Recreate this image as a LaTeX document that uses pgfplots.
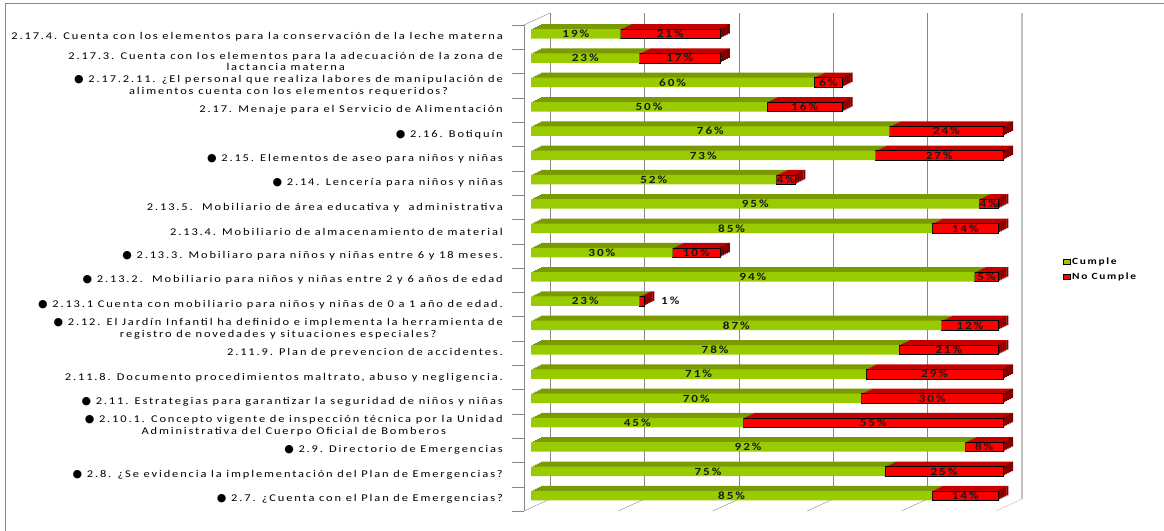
\documentclass[border=0pt]{standalone}
\usepackage{fontspec}
\setmainfont{Carlito}[FakeStretch=1.2, LetterSpace=18]
\newfontfamily\bulletfont{DejaVu Sans}
\usepackage{pgfplots}
\pgfplotsset{compat=1.18}
\usepackage{pgfplotstable}

\definecolor{cumpleFront}{HTML}{99CC00}
\definecolor{cumpleTop}{HTML}{7A9A01}
\definecolor{noFront}{HTML}{FF0000}
\definecolor{noTop}{HTML}{C40000}
\definecolor{noSide}{HTML}{800000}
\definecolor{wall}{HTML}{868686}
\definecolor{wallLight}{HTML}{C0C0C0}

\newcommand{\bul}{{\bulletfont\fontsize{11}{11}\selectfont ●}\ }
% width (in percent) of the dark end face of each bar
\def\capw{0.42}

% pos = category position (top row first), c = Cumple, n = No Cumple (percent)
\pgfplotstableread{
pos   c   n
19.5  19  21
18.5  23  17
17.5  60  6
16.5  50  16
15.5  76  24
14.5  73  27
13.5  52  4
12.5  95  4
11.5  85  14
10.5  30  10
9.5   94  5
8.5   23  1
7.5   87  12
6.5   78  21
5.5   71  29
4.5   70  30
3.5   45  55
2.5   92  8
1.5   75  25
0.5   85  14
}\datatable

\pgfplotsset{
  plane/.style={
    scale only axis, width=472bp, height=486bp,
    xmin=0, xmax=100, ymin=0, ymax=20,
    clip=false, anchor=south west, at={(524bp,20bp)},
  },
  layer/.style={plane, hide axis},
}

\begin{document}
\begin{tikzpicture}
\useasboundingbox (0,0) rectangle (1164bp,531bp);
\draw[wall] (5bp,-5bp) -- (5bp,527.7bp) -- (1170bp,527.7bp);

% walls, floor and category axis
\begin{axis}[plane,
  axis x line=none, axis y line*=left,
  axis line style={wall},
  xtick=\empty,
  ytick={0.5,1.5,...,19.5},
  minor ytick={0,1,...,20},
  major tick length=0pt, minor tick length=12bp, tick align=outside,
  tick style={wall},
  yticklabel style={font=\fontsize{10.4}{11.8}\selectfont, align=center,
    anchor=east, inner sep=0pt, xshift=-21bp, text=black},
  yticklabels={
    \bul 2.7. ¿Cuenta con el Plan de Emergencias?,
    \bul 2.8. ¿Se evidencia la implementación del Plan de Emergencias?,
    \bul 2.9. Directorio de Emergencias,
    \bul 2.10.1. Concepto vigente de inspección técnica por la Unidad\\Administrativa del Cuerpo Oficial de Bomberos,
    \bul 2.11. Estrategias para garantizar la seguridad de niños y niñas,
    {2.11.8. Documento procedimientos maltrato, abuso y negligencia.},
    2.11.9. Plan de prevencion de accidentes.,
    \bul 2.12. El Jardín Infantil ha definido e implementa la herramienta de\\registro de novedades y situaciones especiales?,
    \bul 2.13.1 Cuenta con mobiliario para niños y niñas de 0 a 1 año de edad.,
    \bul 2.13.2.\ \ Mobiliario para niños y niñas entre 2 y 6 años de edad,
    \bul 2.13.3. Mobiliaro para niños y niñas entre 6 y 18 meses.,
    2.13.4. Mobiliario de almacenamiento de material,
    2.13.5.\ \ Mobiliario de área educativa y\ \ administrativa,
    \bul 2.14. Lencería para niños y niñas,
    \bul 2.15. Elementos de aseo para niños y niñas,
    \bul 2.16. Botiquín,
    2.17. Menaje para el Servicio de Alimentación,
    \bul 2.17.2.11. ¿El personal que realiza labores de manipulación de\\alimentos cuenta con los elementos requeridos?,
    2.17.3. Cuenta con los elementos para la adecuación de la zona de\\lactancia materna,
    2.17.4. Cuenta con los elementos para la conservación de la leche materna
  },
]
  \pgfplotsinvokeforeach{0,20,40,60,80}{
    \draw[wall] ([shift={(26bp,12bp)}]axis cs:#1,0) -- ([shift={(26bp,12bp)}]axis cs:#1,20);
    \draw[wall] (axis cs:#1,0) -- ([shift={(26bp,12bp)}]axis cs:#1,0);
  }
  \draw[wallLight, line width=1.6bp] ([shift={(26bp,12bp)}]axis cs:100,0) -- ([shift={(26bp,12bp)}]axis cs:100,20);
  \draw[wallLight] (axis cs:100,0) -- ([shift={(26bp,12bp)}]axis cs:100,0);
  \draw[wall] (axis cs:0,20) -- ([shift={(26bp,12bp)}]axis cs:0,20);
\end{axis}

% depth of the bars: top faces and dark end face, swept back in slices
\foreach \t in {1,0.8,0.6,0.4,0.2}{
  \begin{axis}[layer, xbar stacked, bar width=9.5bp,
      xshift={7bp+10bp*\t}, yshift={3.25bp+5bp*\t}]
    \addplot[fill=cumpleTop, draw=none] table[x=c, y=pos]{\datatable};
    \addplot[fill=noTop, draw=none] table[x expr=\thisrow{n}-\capw, y=pos]{\datatable};
    \addplot[fill=noSide, draw=none] table[x expr=\capw, y=pos]{\datatable};
  \end{axis}
}

% front faces
\begin{axis}[layer, xshift=7bp, yshift=3.25bp, xbar stacked, bar width=9.5bp,
  legend image code/.code={\draw[#1] (0bp,-2.7bp) rectangle (6.5bp,2.7bp);},
  legend style={at={(1.127,0.491)}, anchor=west, draw=none, fill=none,
    font=\bfseries\fontsize{9.5}{10}\selectfont, row sep=3bp, inner sep=0pt,
    nodes={inner sep=2bp}},
  legend cell align=left,
]
  \addplot[fill=cumpleFront, draw=none] table[x=c, y=pos]{\datatable};
  \addlegendentry{Cumple}
  \addplot[fill=noFront, draw=black, line width=0.5bp] table[x=n, y=pos]{\datatable};
  \addlegendentry{No Cumple}
\end{axis}

% value labels
\begin{axis}[layer, xshift=7bp, yshift=3.25bp,
  every node near coord/.append style={font=\bfseries\fontsize{11}{12}\selectfont,
    text=black!90, inner sep=0pt},
]
  \addplot[only marks, mark=none,
    point meta=explicit symbolic, nodes near coords={\pgfplotspointmeta\%},
    nodes near coords align={center}]
    table[x expr=\thisrow{c}/2, y=pos, meta=c]{\datatable};
  \addplot[only marks, mark=none,
    point meta=explicit symbolic, nodes near coords={\pgfplotspointmeta\%},
    nodes near coords align={center}]
    table[x expr={\thisrow{n}<2 ? \thisrow{c}+\thisrow{n}+5.5 : \thisrow{c}+\thisrow{n}/2},
      y=pos, meta=n]{\datatable};
\end{axis}
\end{tikzpicture}
\end{document}
